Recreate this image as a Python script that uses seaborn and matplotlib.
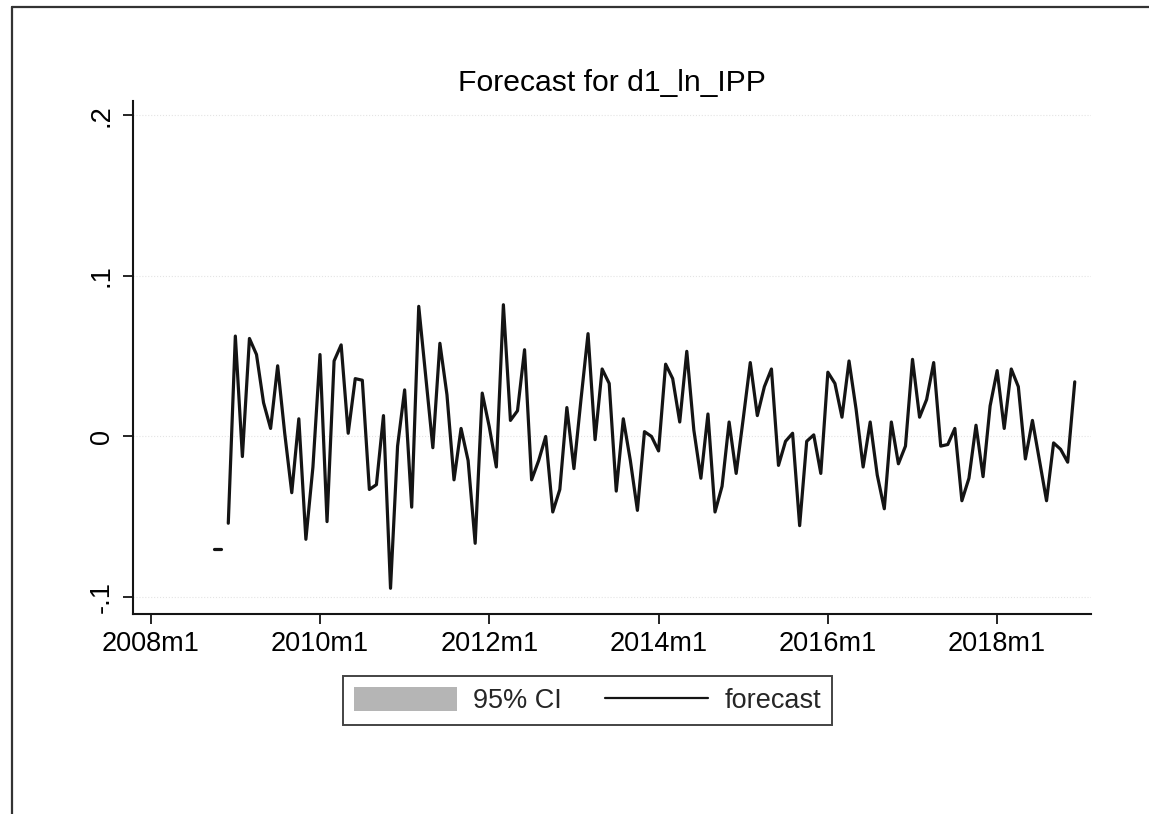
import pandas as pd
import numpy as np
import seaborn as sns
import matplotlib.pyplot as plt
from matplotlib.patches import Patch
from matplotlib.lines import Line2D

# forecast d1_ln_IPP, monthly from 2008m12 to 2018m12
start_month = 11  # months after 2008m1
forecast = [
    -0.054, 0.0625, -0.0125, 0.061, 0.051, 0.021, 0.005, 0.044, 0.002, -0.035,
    0.011, -0.064, -0.019, 0.051, -0.053, 0.047, 0.057, 0.002, 0.036, 0.035,
    -0.033, -0.030, 0.013, -0.0945, -0.006, 0.029, -0.044, 0.081, 0.037, -0.007,
    0.058, 0.026, -0.027, 0.005, -0.015, -0.0665, 0.027, 0.006, -0.019, 0.082,
    0.010, 0.016, 0.054, -0.027, -0.015, 0.000, -0.047, -0.033, 0.018, -0.020,
    0.023, 0.064, -0.002, 0.042, 0.033, -0.034, 0.011, -0.015, -0.046, 0.003,
    0.000, -0.009, 0.045, 0.036, 0.009, 0.053, 0.004, -0.026, 0.014, -0.047,
    -0.031, 0.009, -0.023, 0.011, 0.046, 0.013, 0.031, 0.042, -0.018, -0.003,
    0.002, -0.0555, -0.003, 0.001, -0.023, 0.040, 0.033, 0.012, 0.047, 0.017,
    -0.019, 0.009, -0.024, -0.045, 0.009, -0.017, -0.006, 0.048, 0.012, 0.023,
    0.046, -0.006, -0.005, 0.005, -0.040, -0.026, 0.007, -0.025, 0.019, 0.041,
    0.005, 0.042, 0.031, -0.014, 0.010, -0.015, -0.040, -0.004, -0.008, -0.016,
    0.034,
]
# short isolated piece before the main line (2008m10-2008m11)
stub_months = [9, 10]
stub_values = [-0.070, -0.070]

x_tick_labels = ["2008m1", "2010m1", "2012m1", "2014m1", "2016m1", "2018m1"]
y_ticks = [-0.1, 0.0, 0.1, 0.2]
y_tick_labels = ["-.1", "0", ".1", ".2"]

df = pd.DataFrame({"month": np.arange(start_month, start_month + len(forecast)),
                   "forecast": forecast})
df_stub = pd.DataFrame({"month": stub_months, "forecast": stub_values})

sns.set_style("white")
plt.rcParams["font.family"] = ["Liberation Sans", "DejaVu Sans"]

fig = plt.figure(figsize=(11.49, 8.14), dpi=100)
ax = fig.add_axes([0.1158, 0.2457, 0.8337, 0.6302])

sns.lineplot(data=df, x="month", y="forecast", ax=ax, color="#141414", lw=2.3)
sns.lineplot(data=df_stub, x="month", y="forecast", ax=ax, color="#141414", lw=2.3)

x_ticks = [(int(l.split("m")[0]) - 2008) * 12 + int(l.split("m")[1]) - 1 for l in x_tick_labels]
ax.set_xticks(x_ticks)
ax.set_xticklabels(x_tick_labels, fontsize=19.5)
ax.set_yticks(y_ticks)
ax.set_yticklabels(y_tick_labels, fontsize=19.5, rotation=90, va="center")
ax.set_xlim(-2.5, 133.3)
ax.set_ylim(-0.1105, 0.2088)
ax.set_xlabel("")
ax.set_ylabel("")

for side in ["top", "right"]:
    ax.spines[side].set_visible(False)
for side in ["left", "bottom"]:
    ax.spines[side].set_color("#141414")
    ax.spines[side].set_linewidth(1.5)
ax.tick_params(axis="both", direction="out", length=7, width=1.3, color="#141414",
               bottom=True, left=True, labelcolor="#000000")
ax.tick_params(axis="x", pad=5)
ax.tick_params(axis="y", pad=6)
ax.yaxis.grid(True, color="#e4e4e4", lw=0.8, ls=":")
ax.xaxis.grid(False)

ax.set_title("Forecast for d1_ln_IPP", fontsize=21.7, color="#000000", pad=7)

handles = [Patch(facecolor="#b5b5b5", edgecolor="none"),
           Line2D([], [], color="#141414", lw=1.6)]
leg = fig.legend(handles, ["95% CI", "forecast"], ncol=2, loc="center",
                 bbox_to_anchor=(0.5113, 0.1394), fontsize=19.5, frameon=True,
                 fancybox=False, edgecolor="#141414", handlelength=3.8,
                 handleheight=1.0, columnspacing=1.6, handletextpad=0.6,
                 borderpad=0.4)
leg.get_frame().set_linewidth(1.4)

# scan frame on the left and top edges
fig.add_artist(Line2D([12 / 1149, 12 / 1149], [0, 1 - 7 / 814],
                      transform=fig.transFigure, color="#333333", lw=1.6))
fig.add_artist(Line2D([12 / 1149, 1], [1 - 7 / 814, 1 - 7 / 814],
                      transform=fig.transFigure, color="#333333", lw=1.6))

fig.savefig("out.png", dpi=100)
